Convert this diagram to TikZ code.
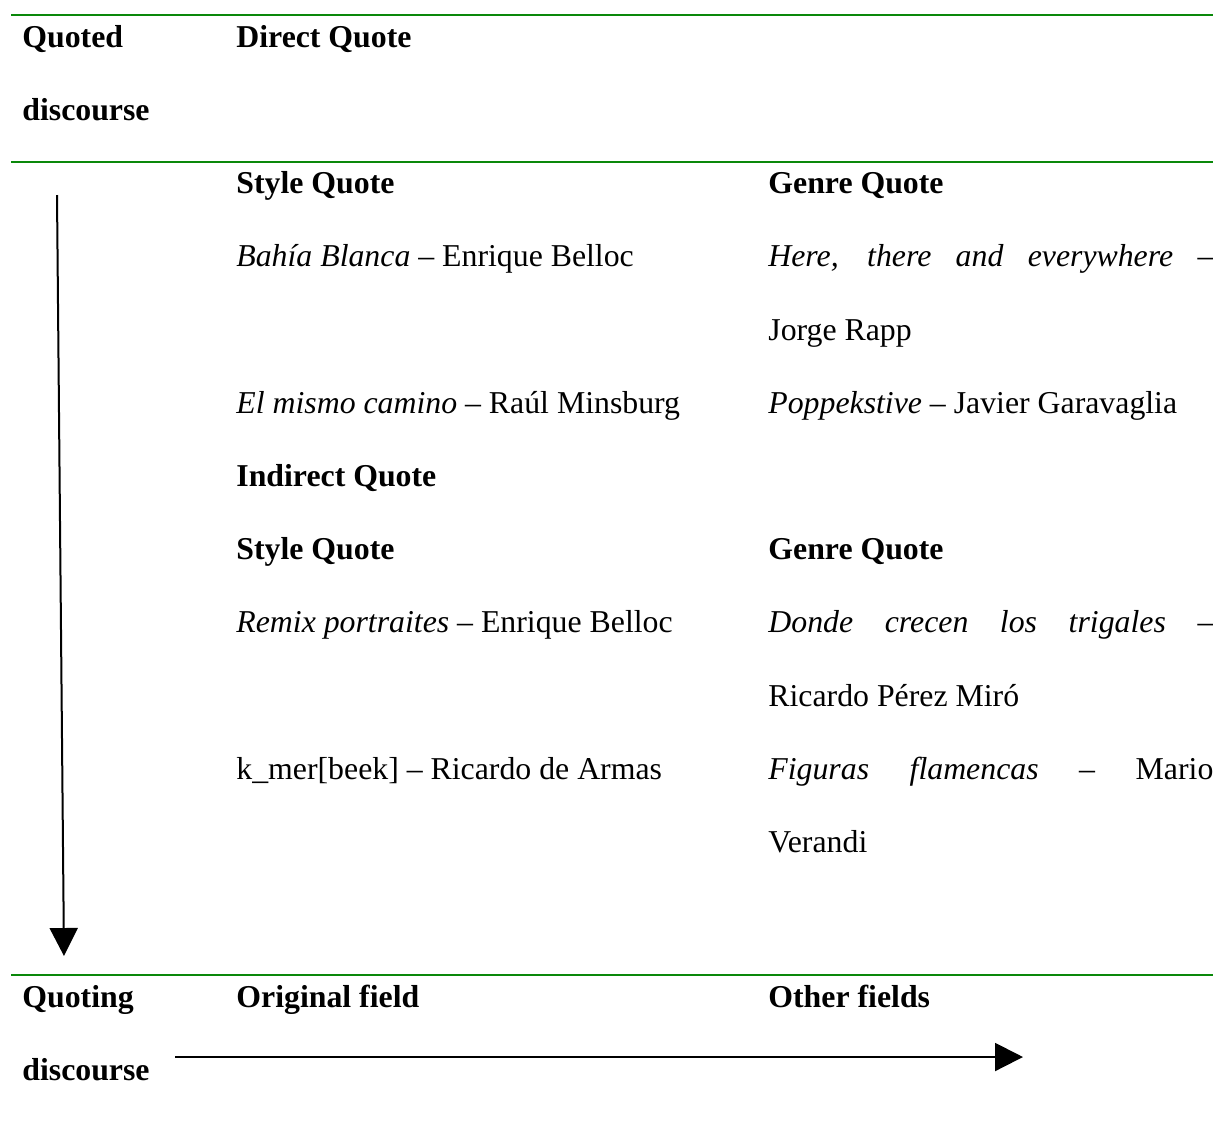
\documentclass[tikz,border=0pt]{standalone}
\usepackage{fontspec}
\setmainfont{Liberation Serif}
\usetikzlibrary{arrows.meta}
\definecolor{rulegreen}{RGB}{10,136,10}
\tikzset{
	txt/.style={anchor=base west, inner sep=0pt, font=\fontsize{15.9}{18}\selectfont},
	hd/.style={txt, font=\fontsize{15.9}{18}\selectfont\bfseries},
	greenrule/.style={line width=1.4pt, color=rulegreen},
	axisarrow/.style={line width=1pt, -{Triangle[width=14pt, length=14pt]}}
}
\newcommand{\jline}[1]{\makebox[222.5pt][s]{#1}}

\begin{document}
\begin{tikzpicture}[x=0.5pt, y=-0.5pt]
			%%%%% START %%%%%
			\useasboundingbox (0, 0) rectangle (1213, 1120);
			
			\coordinate (ruleAl) at (11, 15);
			\coordinate (ruleAr) at (1213, 15);
			\coordinate (ruleBl) at (11, 162);
			\coordinate (ruleBr) at (1213, 162);
			\coordinate (ruleCl) at (11, 975);
			\coordinate (ruleCr) at (1213, 975);
			\draw[greenrule] (ruleAl) -- (ruleAr);
			\draw[greenrule] (ruleBl) -- (ruleBr);
			\draw[greenrule] (ruleCl) -- (ruleCr);
			
			\node[hd] (quoted) at (22, 47) {Quoted};
			\node[hd] (quotedb) at (22, 120) {discourse};
			\node[hd] (direct) at (236, 47) {Direct Quote};
			
			\node[hd] (dstyle) at (236, 193) {Style Quote};
			\node[hd] (dgenre) at (768, 193) {Genre Quote};
			\node[txt] (bahia) at (236, 266) {\textit{Bahía Blanca} -- Enrique Belloc};
			\node[txt] (here) at (768, 266) {\jline{\textit{Here, there and everywhere} --}};
			\node[txt] (rapp) at (768, 340) {Jorge Rapp};
			\node[txt] (mismo) at (236, 413) {\textit{El mismo camino} -- Raúl Minsburg};
			\node[txt] (poppe) at (768, 413) {\textit{Poppekstive} -- Javier Garavaglia};
			
			\node[hd] (indirect) at (236, 486) {Indirect Quote};
			\node[hd] (istyle) at (236, 559) {Style Quote};
			\node[hd] (igenre) at (768, 559) {Genre Quote};
			\node[txt] (remix) at (236, 632) {\textit{Remix portraites} -- Enrique Belloc};
			\node[txt] (donde) at (768, 632) {\jline{\textit{Donde crecen los trigales} --}};
			\node[txt] (miro) at (768, 706) {Ricardo Pérez Miró};
			\node[txt] (kmer) at (236, 779) {k\_mer[beek] -- Ricardo de Armas};
			\node[txt] (figuras) at (768, 779) {\jline{\textit{Figuras flamencas} -- Mario}};
			\node[txt] (verandi) at (768, 852) {Verandi};
			
			\node[hd] (quoting) at (22, 1007) {Quoting};
			\node[hd] (quotingb) at (22, 1080) {discourse};
			\node[hd] (orig) at (236, 1007) {Original field};
			\node[hd] (other) at (768, 1007) {Other fields};
			
			\coordinate (vtop) at (57, 195);
			\coordinate (vbot) at (64, 956);
			\draw[axisarrow] (vtop) -- (vbot);
			
			\coordinate (hleft) at (175, 1057);
			\coordinate (hright) at (1023, 1057);
			\draw[axisarrow] (hleft) -- (hright);
			
			%%%%% END %%%%%
\end{tikzpicture}
\end{document}
